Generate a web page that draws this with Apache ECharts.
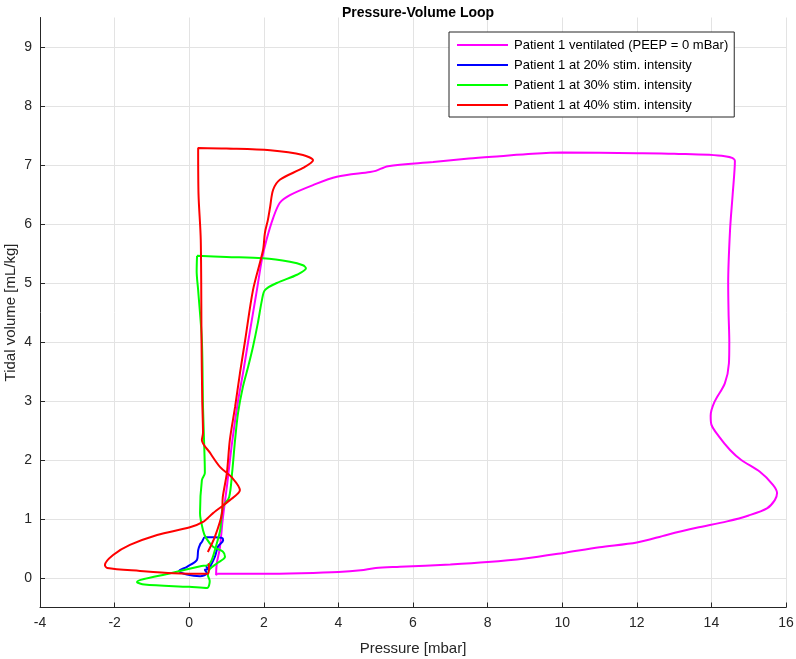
<!DOCTYPE html>
<html><head><meta charset="utf-8">
<script src="https://cdn.jsdelivr.net/npm/echarts@6/dist/echarts.min.js"></script>
<style>html,body{margin:0;padding:0;background:#fff}#c{width:796px;height:659px}</style>
</head><body><div id="c"></div>
<script>
const seriesNames = [
  'Patient 1 ventilated (PEEP = 0 mBar)',
  'Patient 1 at 20% stim. intensity',
  'Patient 1 at 30% stim. intensity',
  'Patient 1 at 40% stim. intensity'
];
const xTicks = [-4,-2,0,2,4,6,8,10,12,14,16];
const yTicks = [0,1,2,3,4,5,6,7,8,9];

const ventilated = [[0.75,0.07],[2,0.07],[3,0.08],[4,0.1],[4.6,0.13],[5.0,0.17],[5.65,0.19],[7,0.23],[8,0.27],[9,0.33],[10,0.42],[11,0.52],[12,0.6],[12.8,0.73],[13.6,0.85],[14.42,0.96],[15.0,1.06],[15.49,1.18],[15.7,1.32],[15.76,1.44],[15.65,1.58],[15.3,1.8],[14.8,2.0],[14.5,2.17],[14.2,2.4],[14.0,2.6],[13.98,2.75],[14.08,2.98],[14.36,3.3],[14.47,3.64],[14.48,4.0],[14.46,4.5],[14.45,5.0],[14.5,5.9],[14.57,6.5],[14.63,7.07],[14.36,7.15],[13,7.19],[12,7.2],[10,7.21],[9.2,7.19],[8.33,7.15],[7.5,7.11],[6.54,7.05],[5.33,6.98],[5.0,6.9],[4.85,6.88],[3.96,6.8],[3.32,6.66],[2.7,6.49],[2.43,6.36],[2.25,6.1],[2.08,5.75],[1.95,5.4],[1.82,4.9],[1.58,4.0],[1.45,3.5],[1.31,3.0],[1.15,2.3],[1.02,1.6],[0.9,1.0],[0.82,0.5],[0.74,0.25],[0.72,0.05],[0.75,0.07]];

const stim20 = [[0.45,0.2],[0.5,0.15],[0.42,0.14],[0.48,0.08],[0.29,0.03],[-0.06,0.06],[-0.27,0.12],[-0.06,0.19],[0.21,0.31],[0.24,0.47],[0.3,0.58],[0.34,0.61],[0.42,0.69],[0.65,0.69],[0.88,0.68],[0.91,0.64],[0.77,0.53],[0.69,0.36],[0.56,0.19]];

const stim30 = [[0.21,5.46],[1.0,5.44],[1.98,5.42],[2.7,5.36],[3.05,5.3],[3.13,5.25],[2.89,5.14],[2.35,5.0],[2.03,4.88],[1.95,4.71],[1.84,4.32],[1.71,3.92],[1.58,3.58],[1.44,3.24],[1.31,2.8],[1.23,2.34],[1.15,1.78],[1.07,1.37],[0.9,1.2],[0.83,0.81],[0.7,0.5],[0.6,0.3],[0.5,0.22],[0.3,0.2],[-0.5,0.08],[-1.4,-0.07],[-1.2,-0.11],[0.0,-0.15],[0.48,-0.17],[0.55,-0.05],[0.5,0.05],[0.55,0.15],[0.75,0.25],[0.96,0.36],[0.9,0.45],[0.64,0.53],[0.45,0.68],[0.37,0.81],[0.29,1.1],[0.34,1.66],[0.42,1.78],[0.4,2.3],[0.37,2.9],[0.34,4.03],[0.24,4.88],[0.2,5.2],[0.21,5.46]];

const stim40 = [[0.5,0.44],[0.69,0.7],[0.88,1.1],[0.9,1.37],[1.01,1.78],[1.09,2.34],[1.23,2.9],[1.36,3.47],[1.5,4.03],[1.71,4.88],[1.98,5.56],[2.03,5.85],[2.11,6.07],[2.17,6.29],[2.25,6.58],[2.43,6.75],[3.05,6.95],[3.32,7.08],[3.05,7.17],[2.17,7.25],[1.0,7.28],[0.24,7.29],[0.25,6.5],[0.31,5.73],[0.33,4.03],[0.35,3.0],[0.37,2.46],[0.34,2.34],[0.56,2.12],[0.83,1.88],[1.15,1.7],[1.36,1.49],[1.09,1.32],[0.64,1.1],[0.37,0.95],[0.02,0.86],[-0.86,0.73],[-1.59,0.56],[-2.04,0.39],[-2.26,0.22],[-2.2,0.17],[-1.32,0.12],[-0.43,0.08],[0.5,0.07],[0.53,0.19],[0.52,0.25]];

const colors = ['#FF00FF','#0000FF','#00FF00','#FF0000'];
const datasets = [ventilated, stim20, stim30, stim40];
const font = 'Liberation Sans, Helvetica, Arial, sans-serif';

const chart = echarts.init(document.getElementById('c'));
chart.setOption({
  animation: false,
  backgroundColor: '#fff',
  title: {text: 'Pressure-Volume Loop', left: 413, top: 1, textAlign: 'center',
    textStyle: {fontFamily: font, fontSize: 14, fontWeight: 'bold', color: '#000'}},
  grid: {left: 40, right: 10, top: 17.5, bottom: 51.5, containLabel: false, outerBoundsMode: 'none'},
  legend: {
    data: seriesNames, orient: 'vertical', left: 449, top: 32,
    borderColor: '#262626', borderWidth: 1, backgroundColor: '#fff',
    padding: [3, 6, 2, 8], itemWidth: 51, itemHeight: 2, itemGap: 0, icon: 'rect',
    textStyle: {fontFamily: font, fontSize: 13, color: '#000', lineHeight: 20, padding: [0,0,0,1]}
  },
  xAxis: {
    type: 'value', min: -4, max: 16, interval: 2,
    name: 'Pressure [mbar]', nameLocation: 'middle', nameGap: 34,
    nameTextStyle: {fontFamily: font, fontSize: 15, color: '#262626'},
    axisLine: {onZero: false, lineStyle: {color: '#262626', width: 1}},
    axisTick: {inside: true, length: 5, lineStyle: {color: '#262626'}},
    axisLabel: {fontFamily: font, fontSize: 14, color: '#262626', margin: 9},
    splitLine: {show: true, lineStyle: {color: '#e3e3e3', width: 1}}
  },
  yAxis: {
    type: 'value', min: -0.5, max: 9.5,
    name: 'Tidal volume [mL/kg]', nameLocation: 'middle', nameGap: 22, nameMoveOverlap: false,
    nameTextStyle: {fontFamily: font, fontSize: 15, color: '#262626'},
    axisLine: {show: true, onZero: false, lineStyle: {color: '#262626', width: 1}},
    axisTick: {show: true, inside: true, length: 5, customValues: yTicks, lineStyle: {color: '#262626'}},
    axisLabel: {fontFamily: font, fontSize: 14, color: '#262626', margin: 8, customValues: yTicks},
    splitLine: {show: true, lineStyle: {color: '#e3e3e3', width: 1}}
  },
  series: datasets.map((d, i) => ({
    name: seriesNames[i], type: 'line', data: d, showSymbol: false, symbol: 'none',
    smooth: 0.3, color: colors[i], lineStyle: {color: colors[i], width: 2}, z: 2 + i
  }))
});
</script></body></html>
